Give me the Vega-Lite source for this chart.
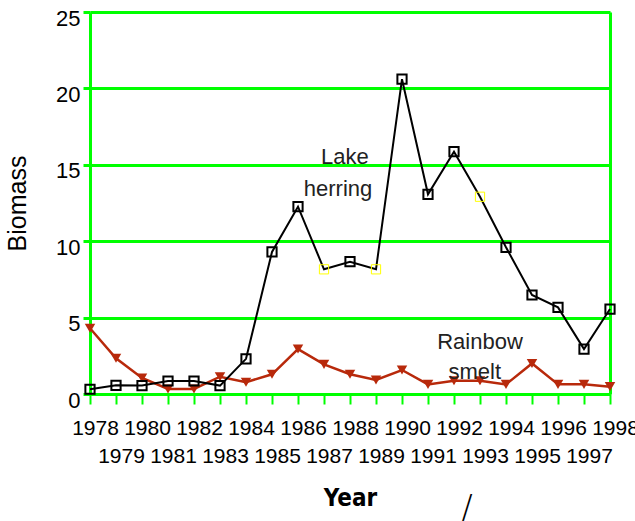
{
  "$schema": "https://vega.github.io/schema/vega-lite/v6.json",
  "width": 520,
  "height": 382,
  "autosize": {"type": "none"},
  "padding": {"left": 90, "top": 12, "right": 25, "bottom": 127},
  "background": "white",
  "config": {
    "view": {"stroke": null},
    "font": "Liberation Sans"
  },
  "datasets": {
    "biomass": [
      {"Year": 1978, "Species": "Lake herring", "Biomass": 0.31},
      {"Year": 1979, "Species": "Lake herring", "Biomass": 0.57},
      {"Year": 1980, "Species": "Lake herring", "Biomass": 0.55},
      {"Year": 1981, "Species": "Lake herring", "Biomass": 0.85},
      {"Year": 1982, "Species": "Lake herring", "Biomass": 0.85},
      {"Year": 1983, "Species": "Lake herring", "Biomass": 0.55},
      {"Year": 1984, "Species": "Lake herring", "Biomass": 2.3},
      {"Year": 1985, "Species": "Lake herring", "Biomass": 9.3},
      {"Year": 1986, "Species": "Lake herring", "Biomass": 12.26},
      {"Year": 1987, "Species": "Lake herring", "Biomass": 8.16},
      {"Year": 1988, "Species": "Lake herring", "Biomass": 8.66},
      {"Year": 1989, "Species": "Lake herring", "Biomass": 8.16},
      {"Year": 1990, "Species": "Lake herring", "Biomass": 20.6},
      {"Year": 1991, "Species": "Lake herring", "Biomass": 13.07},
      {"Year": 1992, "Species": "Lake herring", "Biomass": 15.86},
      {"Year": 1993, "Species": "Lake herring", "Biomass": 12.91},
      {"Year": 1994, "Species": "Lake herring", "Biomass": 9.6},
      {"Year": 1995, "Species": "Lake herring", "Biomass": 6.48},
      {"Year": 1996, "Species": "Lake herring", "Biomass": 5.67},
      {"Year": 1997, "Species": "Lake herring", "Biomass": 2.94},
      {"Year": 1998, "Species": "Lake herring", "Biomass": 5.56},
      {"Year": 1978, "Species": "Rainbow smelt", "Biomass": 4.3},
      {"Year": 1979, "Species": "Rainbow smelt", "Biomass": 2.34},
      {"Year": 1980, "Species": "Rainbow smelt", "Biomass": 1.05},
      {"Year": 1981, "Species": "Rainbow smelt", "Biomass": 0.33},
      {"Year": 1982, "Species": "Rainbow smelt", "Biomass": 0.33},
      {"Year": 1983, "Species": "Rainbow smelt", "Biomass": 1.13},
      {"Year": 1984, "Species": "Rainbow smelt", "Biomass": 0.77},
      {"Year": 1985, "Species": "Rainbow smelt", "Biomass": 1.29},
      {"Year": 1986, "Species": "Rainbow smelt", "Biomass": 2.94},
      {"Year": 1987, "Species": "Rainbow smelt", "Biomass": 1.94},
      {"Year": 1988, "Species": "Rainbow smelt", "Biomass": 1.29},
      {"Year": 1989, "Species": "Rainbow smelt", "Biomass": 0.92},
      {"Year": 1990, "Species": "Rainbow smelt", "Biomass": 1.57},
      {"Year": 1991, "Species": "Rainbow smelt", "Biomass": 0.63},
      {"Year": 1992, "Species": "Rainbow smelt", "Biomass": 0.87},
      {"Year": 1993, "Species": "Rainbow smelt", "Biomass": 0.87},
      {"Year": 1994, "Species": "Rainbow smelt", "Biomass": 0.63},
      {"Year": 1995, "Species": "Rainbow smelt", "Biomass": 2.0},
      {"Year": 1996, "Species": "Rainbow smelt", "Biomass": 0.63},
      {"Year": 1997, "Species": "Rainbow smelt", "Biomass": 0.63},
      {"Year": 1998, "Species": "Rainbow smelt", "Biomass": 0.48}
    ],
    "notes": [
      {"label": "Lake", "Year": 1987.8, "Biomass": 15.05},
      {"label": "herring", "Year": 1987.54, "Biomass": 12.96},
      {"label": "Rainbow", "Year": 1993.0, "Biomass": 2.95},
      {"label": "smelt", "Year": 1992.8, "Biomass": 0.98}
    ],
    "slash": [
      {"label": "/", "Year": 1992.5, "Biomass": -8.2}
    ]
  },
  "encoding": {
    "x": {
      "field": "Year",
      "type": "quantitative",
      "scale": {"domain": [1978, 1998], "nice": false, "zero": false},
      "axis": {
        "values": [1978, 1979, 1980, 1981, 1982, 1983, 1984, 1985, 1986, 1987, 1988, 1989, 1990, 1991, 1992, 1993, 1994, 1995, 1996, 1997, 1998],
        "format": "d",
        "labelExpr": "datum.value % 2 == 0 ? datum.label : ['', datum.label]",
        "labelBaseline": "top",
        "labelLineHeight": 28,
        "labelPadding": 13,
        "labelOffset": 5,
        "labelFontSize": 21,
        "labelColor": "#000000",
        "labelOverlap": false,
        "labelFlush": false,
        "domainColor": "#00ff00",
        "domainWidth": 3,
        "tickColor": "#00ff00",
        "tickWidth": 2,
        "tickSize": 10,
        "grid": true,
        "gridColor": {"condition": {"test": "datum.value == 1998", "value": "#00ff00"}, "value": "transparent"},
        "gridWidth": 3,
        "title": "Year",
        "titleFont": "'Liberation Sans Narrow', 'DejaVu Sans Condensed', 'Liberation Sans', sans-serif",
        "titleFontWeight": "bold",
        "titleFontSize": 24,
        "titleColor": "#000000",
        "titlePadding": 20
      }
    },
    "y": {
      "field": "Biomass",
      "type": "quantitative",
      "scale": {"domain": [0, 25], "nice": false},
      "axis": {
        "values": [0, 5, 10, 15, 20, 25],
        "labelFontSize": 22,
        "labelColor": "#000000",
        "labelPadding": 3,
        "labelOffset": 6,
        "domainColor": "#00ff00",
        "domainWidth": 3,
        "tickColor": "#00ff00",
        "tickWidth": 3,
        "tickSize": 7,
        "grid": true,
        "gridColor": "#00ff00",
        "gridWidth": 3,
        "gridOpacity": 1,
        "title": "Biomass",
        "titleFontSize": 25,
        "titleFontWeight": "normal",
        "titleColor": "#000000",
        "titlePadding": 25
      }
    }
  },
  "layer": [
    {
      "data": {"name": "biomass"},
      "transform": [{"filter": "datum.Species == 'Rainbow smelt'"}],
      "mark": {"type": "line", "color": "#B8290B", "strokeWidth": 2.5}
    },
    {
      "data": {"name": "biomass"},
      "transform": [{"filter": "datum.Species == 'Rainbow smelt'"}],
      "mark": {"type": "point", "shape": "triangle-down", "filled": true, "color": "#B8290B", "size": 110, "opacity": 1}
    },
    {
      "data": {"name": "biomass"},
      "transform": [{"filter": "datum.Species == 'Lake herring'"}],
      "mark": {"type": "line", "color": "#000000", "strokeWidth": 2}
    },
    {
      "data": {"name": "biomass"},
      "transform": [{"filter": "datum.Species == 'Lake herring'"}],
      "mark": {"type": "point", "shape": "square", "filled": false, "size": 85, "opacity": 1},
      "encoding": {
        "stroke": {"condition": {"test": "datum.Year == 1987 || datum.Year == 1989 || datum.Year == 1993", "value": "#ffff00"}, "value": "#000000"},
        "strokeWidth": {"condition": {"test": "datum.Year == 1987 || datum.Year == 1989 || datum.Year == 1993", "value": 1}, "value": 2}
      }
    },
    {
      "data": {"name": "notes"},
      "mark": {"type": "text", "fontSize": 22, "color": "#222222", "align": "center", "baseline": "alphabetic"},
      "encoding": {"text": {"field": "label"}}
    },
    {
      "data": {"name": "slash"},
      "mark": {"type": "text", "fontSize": 34, "font": "DejaVu Sans", "fontWeight": 200, "color": "#000000", "align": "center", "baseline": "alphabetic"},
      "encoding": {"text": {"field": "label"}}
    }
  ]
}
